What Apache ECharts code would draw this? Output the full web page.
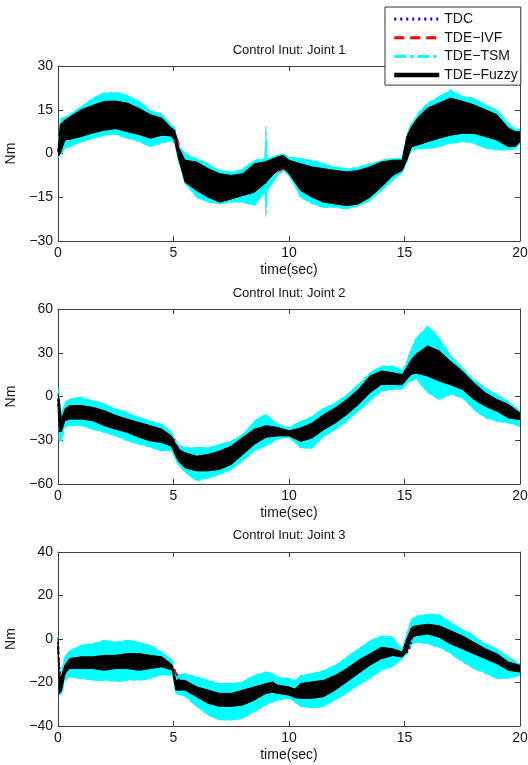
<!DOCTYPE html>
<html>
<head>
<meta charset="utf-8">
<script src="https://cdn.jsdelivr.net/npm/echarts@6/dist/echarts.min.js"></script>
<style>
  html, body { margin: 0; padding: 0; background: #fff; }
  #chart { width: 528px; height: 765px; }
</style>
</head>
<body>
<div id="chart"></div>
<script>
// ---- Panel titles and axis scales ----
const panelTitles = ['Control Inut: Joint 1', 'Control Inut: Joint 2', 'Control Inut: Joint 3'];
const xTickValues = [0, 5, 10, 15, 20];
const yTicks1 = [-30, -15, 0, 15, 30];
const yTicks2 = [-60, -30, 0, 30, 60];
const yTicks3 = [-40, -20, 0, 20, 40];

// ---- Joint 1: envelopes of TDE-TSM (cyan) and TDE-Fuzzy (black) ----
const t1 = [0, 0.1, 0.3, 0.6, 1, 1.5, 2, 2.5, 3, 3.5, 4, 4.5, 4.9, 5.05, 5.2, 5.5, 6, 6.5, 7, 7.5, 8, 8.5, 8.95, 9.0, 9.05, 9.5, 9.75, 10, 10.5, 11, 11.5, 12, 12.5, 13, 13.5, 14, 14.5, 14.9, 15.1, 15.3, 15.6, 16, 16.5, 17, 17.5, 18, 18.5, 19, 19.5, 19.8, 20];
const tsmHi1 = [2, 12, 12.5, 14, 16, 19, 20.8, 21, 20, 18, 14.8, 13.5, 10, 9, 3, 0, -1.7, -3.5, -5.8, -6.3, -5.2, -2.3, -1.7, 9.2, -1.7, -0.6, 0, -1.2, -1.7, -2.3, -3.5, -4.6, -5.2, -4.6, -3.5, -2.3, -1.7, -1.5, 6.5, 10.4, 14, 17.3, 19.6, 21.9, 19.6, 19, 16.7, 15, 10.4, 8.5, 8.1];
const fzHi1  = [1, 10, 11.5, 13, 15, 16.5, 17.9, 18, 17.3, 15.5, 13.3, 12.1, 8.8, 8, 2.3, -2.3, -2.9, -5.2, -6.9, -7.5, -6.9, -3.5, -2.9, -2.9, -2.6, -1.2, -0.6, -2.3, -3.5, -4.6, -5.2, -5.8, -6.3, -5.8, -4.6, -2.9, -2.3, -2.3, 5.8, 9.2, 12.5, 15.6, 17.3, 19, 17.9, 16.7, 15, 13.3, 8.7, 7.5, 7.5];
const fzLo1  = [-1, 0, 4.6, 5, 5.8, 7, 8, 8.5, 7.5, 6.5, 5.2, 6.3, 6, 4.5, -1.2, -9.8, -12.7, -15, -16.7, -15.6, -14.4, -13.3, -10.4, -10.4, -9.5, -5.8, -5, -6.9, -12.7, -15, -16.7, -17.3, -17.9, -17.3, -15, -11.5, -7.5, -5.8, -2.3, 2.3, 3, 4, 5.2, 6.3, 6.9, 6.9, 5.8, 4.6, 2.3, 2.5, 4];
const tsmLo1 = [-1.5, -0.5, 1.7, 2.5, 4, 5, 6.3, 6.5, 5.2, 4, 2.3, 3.5, 4.5, 3, -2, -10.4, -15, -16.7, -17.3, -16.7, -16.7, -17.9, -13.3, -21.9, -13, -7.5, -6, -7.5, -15, -17.3, -18.5, -18.5, -19, -18, -16.2, -12.7, -9.2, -6.5, -3, 1.2, 1.5, 1.7, 2.3, 3.5, 4, 3.5, 1.7, 1.2, 1.2, 1.5, 3.5];
// TDC / TDE-IVF traces (mostly hidden under the black band)
const tc1  = [0, 0.3, 1, 2, 3, 4, 4.9, 5.1, 5.3, 5.6, 7, 8.5, 10, 12.5, 14.5, 14.95, 15.15, 15.35, 17, 19, 20];
const tdc1 = [0.5, 8, 10.2, 12.8, 12.2, 9.1, 7.6, 6.2, -0.5, -6.2, -11.6, -8.2, -4.4, -11.8, -4.7, -4.6, 1.0, 6.2, 12.4, 8.8, 5.5];
const ivf1 = [0.8, 8.2, 10.5, 13.1, 12.5, 9.4, 7.3, 6.8, 0.6, -6.0, -11.9, -8.5, -4.7, -12.1, -5.0, -4.3, 0.5, 5.8, 12.7, 9.1, 5.8];

// ---- Joint 2 ----
const t2 = [0, 0.05, 0.15, 0.3, 0.5, 1, 1.5, 2, 2.5, 3, 3.5, 4, 4.5, 4.9, 5.2, 5.5, 6, 6.5, 7, 7.5, 8, 8.5, 9, 9.5, 10, 10.5, 11, 11.5, 12, 12.5, 13, 13.5, 14, 14.5, 14.9, 15.1, 15.3, 15.5, 16, 16.5, 17, 17.5, 18, 18.5, 19, 19.5, 20];
const tsmHi2 = [6, 0, -12, -4, -1.6, -0.5, -2.8, -5, -8.5, -10.9, -14.3, -16.6, -19, -24, -33, -35, -35, -35, -32.8, -30.5, -25.9, -16.6, -12, -19, -21.2, -17, -13.6, -7.8, -4.4, 1.4, 8.3, 16.3, 20.9, 20.9, 18, 24, 33.6, 40, 48.5, 40.5, 28, 19.8, 11.7, 6, 1.4, -3.2, -10.1];
const fzHi2  = [2, -2, -16, -8.5, -6.2, -6.2, -7.4, -9.7, -13, -15.5, -17.8, -20, -22.4, -27, -36, -38.6, -40.9, -39.7, -37.4, -34, -28, -22.4, -20, -21.2, -23.5, -21.6, -18.2, -12.4, -7.8, -2, 4.8, 14, 17.5, 16.3, 15, 20, 25.5, 29, 34.7, 31.3, 24, 17.5, 9.4, 2.5, -2, -5.5, -11.3];
const fzLo2  = [-5, -24, -24, -16.6, -15.5, -15.5, -16.6, -20, -22.4, -24.7, -28, -30.5, -31.6, -34, -44, -49, -51, -51, -50, -46.6, -39.7, -32.8, -28, -27, -27, -30.8, -28.5, -22.8, -18.2, -12.4, -5.5, 2.5, 8.3, 8.3, 8, 12, 15.2, 16, 14, 10.6, 8, 4.8, -2, -6.7, -10.1, -14.7, -15.9];
const tsmLo2 = [-10, -30, -31, -21, -20, -20, -22.4, -24.7, -27, -30.5, -32.8, -35, -37.4, -37, -47, -52, -58, -55.9, -53.6, -50, -44.3, -37.4, -34, -29.3, -28, -35.4, -35.4, -27.4, -22.8, -17, -10.1, -3.2, 3.7, 4.8, 5, 9, 10.6, 12, 2.5, -2, 1.4, -0.9, -9, -14.7, -17, -18.2, -20.5];
const tc2  = [0, 0.1, 0.25, 0.5, 1, 2, 3, 4, 4.8, 5.05, 5.25, 5.6, 6.5, 8, 9.5, 10, 12, 14, 14.8, 15.05, 15.3, 16, 17, 18, 19, 20];
const tdc2 = [-1.5, -21, -14.5, -10.7, -10.6, -14.6, -19.8, -24.8, -27.2, -31.5, -38.5, -44.2, -44.8, -33.8, -23.8, -24.9, -12.8, 13.1, 11.0, 10.5, 19.6, 23.8, 15.8, 3.9, -5.8, -13.7];
const ivf2 = [-2, -24, -15, -11, -11, -15, -20, -25, -27, -30, -37, -44, -45.3, -34.2, -24.1, -25.2, -13.2, 12.8, 11.4, 12.2, 20.1, 24.3, 16.2, 3.5, -6.1, -13.4];

// ---- Joint 3 ----
const t3 = [0, 0.05, 0.15, 0.3, 0.5, 1, 1.5, 2, 2.5, 3, 3.5, 4, 4.5, 4.95, 5.1, 5.5, 6, 6.5, 7, 7.5, 8, 8.5, 9, 9.3, 9.5, 10, 10.25, 10.5, 11, 11.5, 12, 12.5, 13, 13.5, 14, 14.5, 14.9, 15.1, 15.3, 15.5, 16, 16.5, 17, 17.5, 18, 18.5, 19, 19.5, 20];
const tsmHi3 = [1, -15, -14, -8.2, -5.2, -2.9, -2.1, -0.6, -1.4, -0.6, -1.4, -2.9, -6, -9.8, -17, -15.9, -17.4, -19, -20.5, -20.5, -19.7, -16.6, -15.1, -16, -17.4, -18.2, -19, -16.7, -15.9, -14.4, -12.1, -8.3, -4.5, -0.8, 1.5, 0.8, -5, 3, 9.1, 10.6, 11.4, 11.4, 7.6, 4.5, 1.5, -2.3, -4.5, -8.3, -11.4];
const fzHi3  = [0.5, -18, -17, -12, -9, -8.2, -8.2, -7.5, -7.5, -6.7, -6.7, -7.5, -8.2, -12, -19, -19, -22, -23.5, -25, -25, -23.5, -22, -20.5, -19.7, -21.2, -22, -23, -20.5, -19.7, -19, -16.7, -13.6, -9.8, -6.8, -3.8, -4.5, -6, 0, 5.3, 6.1, 6.8, 6.1, 3.8, 1.5, -1.5, -4.5, -6.8, -10.6, -12.1];
const fzLo3  = [-3, -25, -24, -15.9, -13.6, -13.6, -13.6, -14.4, -13.6, -13.6, -14.4, -13.6, -12.8, -14.4, -23.5, -23.5, -26.6, -29.6, -31, -31, -30.4, -28.1, -25, -24.5, -25, -25.8, -27, -27.3, -27.3, -26.5, -23.5, -19.7, -15.9, -12.1, -9.1, -7.6, -8.3, -6, 0.8, 1.5, 2.3, 0.8, -2.3, -4.5, -6.8, -9.1, -11.4, -14.4, -15.2];
const tsmLo3 = [-5, -26, -25, -19, -17.4, -18.2, -19, -19, -19.7, -19, -19, -18.2, -16.6, -16.6, -25, -26.6, -31, -35, -37.3, -37.3, -36.5, -33.4, -30.4, -29, -28.1, -27.3, -29, -31, -31.8, -31, -28, -25, -21.2, -18.2, -14.4, -12.9, -9, -7, -2.3, -1.5, -2.3, -3.8, -6.8, -10.6, -13.6, -15.9, -18.2, -18.2, -16.7];
const tc3  = [0, 0.1, 0.2, 0.35, 0.6, 1, 2, 3, 4, 4.9, 5.1, 5.25, 5.6, 7, 9, 10, 12, 14, 14.8, 15.05, 15.2, 15.4, 16, 17, 18, 19, 20];
const tdc3 = [-1.5, -20.5, -18, -13.8, -10.8, -11.1, -10.9, -9.9, -10.6, -12.8, -14.8, -19, -21.4, -27.9, -22.7, -23.9, -19.9, -6.4, -7.1, -6.8, -5.0, 2.8, 4.4, 0.6, -3.9, -8.9, -13.7];
const ivf3 = [-3, -22, -19, -14.5, -11.2, -10.9, -11.1, -10.1, -10.4, -13.1, -15.5, -21.2, -21.6, -28.1, -22.9, -24.1, -20.1, -6.6, -7.3, -6.2, -3.5, 3.2, 4.6, 0.8, -4.1, -9.1, -13.5];

// ---- Chart construction ----
const FONT = '"Liberation Sans", Arial, Helvetica, sans-serif';
const FRAME = '#3f3f3f';
const TEXT = '#151515';
const CYAN = '#00ffff';
const minus = v => (v < 0 ? '\u2212' + Math.abs(v) : String(v));

const joints = [
  { t: t1, tsmHi: tsmHi1, tsmLo: tsmLo1, fzHi: fzHi1, fzLo: fzLo1, tc: tc1, tdc: tdc1, ivf: ivf1, yTicks: yTicks1 },
  { t: t2, tsmHi: tsmHi2, tsmLo: tsmLo2, fzHi: fzHi2, fzLo: fzLo2, tc: tc2, tdc: tdc2, ivf: ivf2, yTicks: yTicks2 },
  { t: t3, tsmHi: tsmHi3, tsmLo: tsmLo3, fzHi: fzHi3, fzLo: fzLo3, tc: tc3, tdc: tdc3, ivf: ivf3, yTicks: yTicks3 }
];

const gridBoxes = [
  { left: 58, right: 8, top: 66, height: 175, containLabel: false, outerBoundsMode: 'none' },
  { left: 58, right: 8, top: 309, height: 175, containLabel: false, outerBoundsMode: 'none' },
  { left: 58, right: 8, top: 552, height: 174, containLabel: false, outerBoundsMode: 'none' }
];
const titleTops = [44, 287, 529];

const pairs = (t, v) => t.map((x, i) => [x, v[i]]);

// filled envelope between lo and hi, mapped through the axes
function band(name, t, lo, hi, color, z, g) {
  const data = t.map((x, i) => [x, lo[i], hi[i]]);
  return {
    type: 'custom', name, xAxisIndex: 2 * g, yAxisIndex: 2 * g, z, silent: true,
    data, encode: { x: 0, y: [1, 2] },
    renderItem(params, api) {
      if (params.dataIndex !== 0) return null;
      const upper = data.map(d => api.coord([d[0], d[2]]));
      const lower = data.map(d => api.coord([d[0], d[1]])).reverse();
      return { type: 'polygon', shape: { points: upper.concat(lower) }, style: { fill: color } };
    }
  };
}

function trace(name, t, v, lineStyle, z, g) {
  return {
    type: 'line', name, xAxisIndex: 2 * g, yAxisIndex: 2 * g, z, silent: true,
    data: pairs(t, v), symbol: 'none', lineStyle
  };
}

const tsmStyle = { color: CYAN, width: 1, type: [12, 4, 3, 4] };
const fzStyle = { color: '#000', width: 1 };
const tdcStyle = { color: '#0000ff', width: 2, type: [2, 3] };
const ivfStyle = { color: '#ff0000', width: 2, type: [8, 5] };

const series = [];
joints.forEach((j, g) => {
  series.push(band('TSM band', j.t, j.tsmLo, j.tsmHi, CYAN, 1, g));
  series.push(trace('TDE\u2212TSM', j.t, j.tsmHi, tsmStyle, 2, g));
  series.push(trace('TDE\u2212TSM', j.t, j.tsmLo, tsmStyle, 2, g));
  series.push(trace('TDC', j.tc, j.tdc, tdcStyle, 3, g));
  series.push(trace('TDE\u2212IVF', j.tc, j.ivf, ivfStyle, 3, g));
  series.push(band('Fuzzy band', j.t, j.fzLo, j.fzHi, '#000', 4, g));
  series.push(trace('TDE\u2212Fuzzy', j.t, j.fzHi, fzStyle, 5, g));
  series.push(trace('TDE\u2212Fuzzy', j.t, j.fzLo, fzStyle, 5, g));
});

const baseAxis = {
  type: 'value',
  axisLine: { show: true, onZero: false, lineStyle: { color: FRAME, width: 1 } },
  axisTick: { show: true, inside: true, length: 5, lineStyle: { color: FRAME, width: 1 } },
  splitLine: { show: false },
  axisLabel: { show: false }
};

const xAxis = [], yAxis = [];
joints.forEach((j, g) => {
  const xr = [xTickValues[0], xTickValues[xTickValues.length - 1], xTickValues[1] - xTickValues[0]];
  xAxis.push(Object.assign({}, baseAxis, {
    gridIndex: g, position: 'bottom', min: xr[0], max: xr[1], interval: xr[2],
    axisLabel: { show: true, color: TEXT, fontSize: 14, fontFamily: FONT, margin: 5 },
    name: 'time(sec)', nameLocation: 'middle', nameGap: 22,
    nameTextStyle: { color: TEXT, fontSize: 14, fontFamily: FONT }
  }));
  xAxis.push(Object.assign({}, baseAxis, {
    gridIndex: g, position: 'top', min: xr[0], max: xr[1], interval: xr[2]
  }));
  const yt = j.yTicks;
  const yr = [yt[0], yt[yt.length - 1], yt[1] - yt[0]];
  yAxis.push(Object.assign({}, baseAxis, {
    gridIndex: g, position: 'left', min: yr[0], max: yr[1], interval: yr[2],
    axisLabel: { show: true, color: TEXT, fontSize: 14, fontFamily: FONT, margin: 5, formatter: minus },
    name: 'Nm', nameLocation: 'middle', nameGap: 31, nameRotate: 90,
    nameTextStyle: { color: TEXT, fontSize: 14, fontFamily: FONT }
  }));
  yAxis.push(Object.assign({}, baseAxis, {
    gridIndex: g, position: 'right', min: yr[0], max: yr[1], interval: yr[2]
  }));
});

const option = {
  animation: false,
  backgroundColor: '#fff',
  title: panelTitles.map((text, g) => ({
    text, left: 289, top: titleTops[g], textAlign: 'center', padding: 0,
    textStyle: { fontSize: 13, fontWeight: 'normal', color: TEXT, fontFamily: FONT }
  })),
  grid: gridBoxes,
  xAxis, yAxis,
  legend: {
    orient: 'vertical', left: 385, top: 7, z: 10, selectedMode: false,
    backgroundColor: '#fff', borderColor: '#333', borderWidth: 1, borderRadius: 0,
    padding: [5, 3, 3, 7], itemWidth: 45, itemHeight: 14, itemGap: 4.7,
    itemStyle: { opacity: 0 },
    textStyle: { fontSize: 14, color: TEXT, fontFamily: FONT },
    data: [
      { name: 'TDC', lineStyle: { color: '#0000ff', width: 3, type: [2, 4] } },
      { name: 'TDE\u2212IVF', lineStyle: { color: '#ff0000', width: 3, type: [10, 6] } },
      { name: 'TDE\u2212TSM', lineStyle: { color: CYAN, width: 3, type: [12, 4, 3, 4] } },
      { name: 'TDE\u2212Fuzzy', lineStyle: { color: '#000', width: 4.5 } }
    ]
  },
  series
};

const chart = echarts.init(document.getElementById('chart'), null, { renderer: 'canvas' });
chart.setOption(option);
</script>
</body>
</html>
